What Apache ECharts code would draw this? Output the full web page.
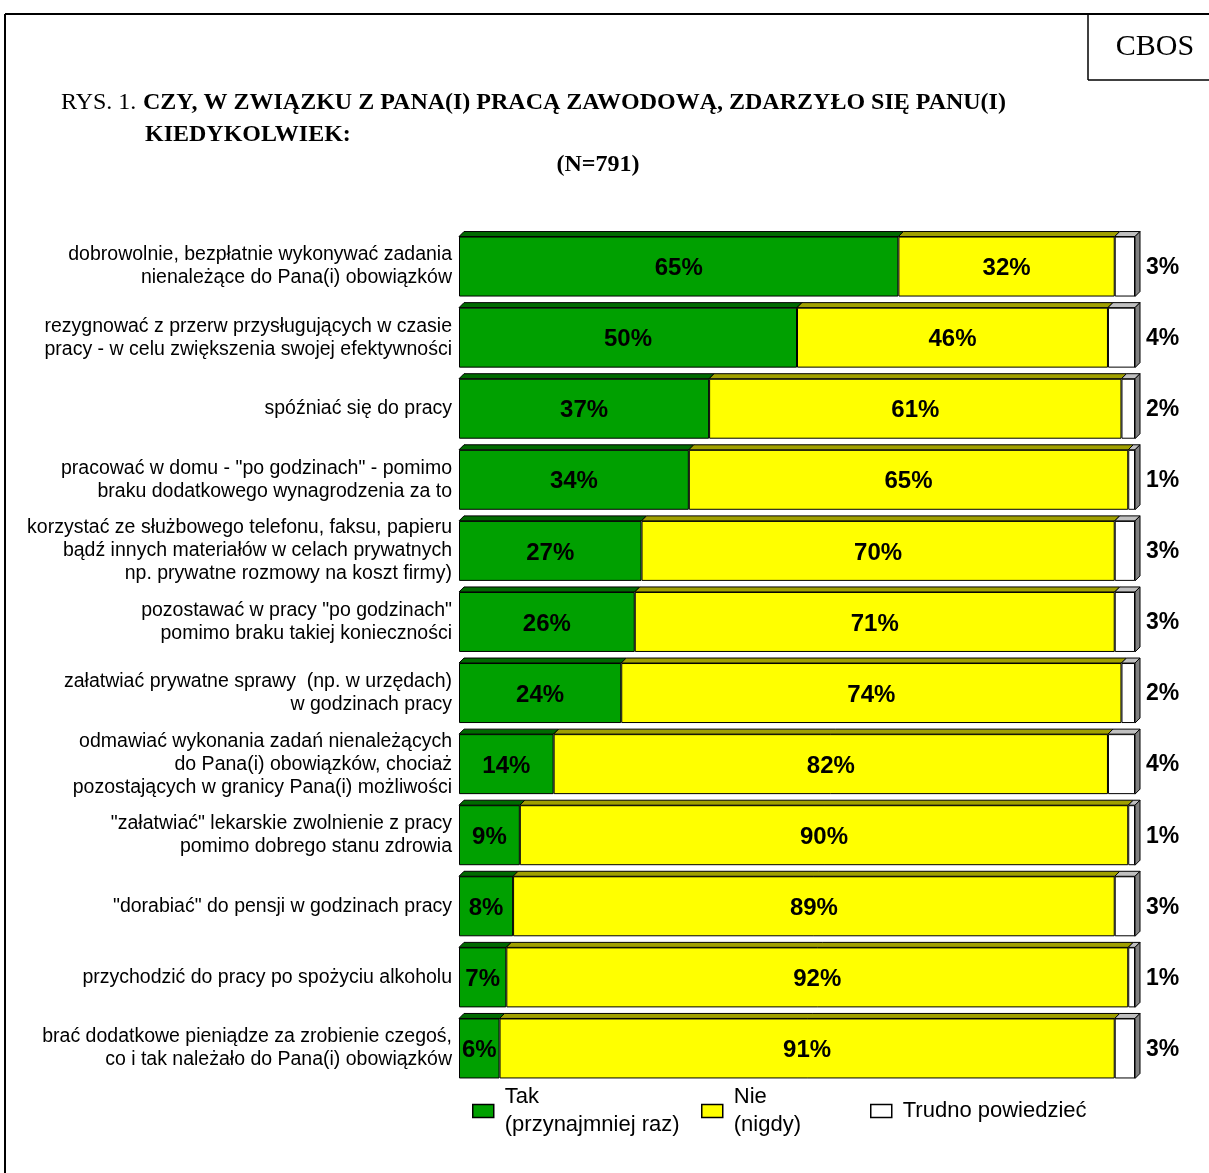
<!DOCTYPE html>
<html><head><meta charset="utf-8">
<script src="https://cdn.jsdelivr.net/npm/echarts@6/dist/echarts.min.js"></script>
<style>html,body{margin:0;padding:0;background:#fff}#c{width:1209px;height:1173px}</style>
</head><body><div id="c"></div>
<script>
var categories = [
  "dobrowolnie, bezpłatnie wykonywać zadania\nnienależące do Pana(i) obowiązków",
  "rezygnować z przerw przysługujących w czasie\npracy - w celu zwiększenia swojej efektywności",
  "spóźniać się do pracy",
  "pracować w domu - \"po godzinach\" - pomimo\nbraku dodatkowego wynagrodzenia za to",
  "korzystać ze służbowego telefonu, faksu, papieru\nbądź innych materiałów w celach prywatnych\nnp. prywatne rozmowy na koszt firmy)",
  "pozostawać w pracy \"po godzinach\"\npomimo braku takiej konieczności",
  "załatwiać prywatne sprawy  (np. w urzędach)\nw godzinach pracy",
  "odmawiać wykonania zadań nienależących\ndo Pana(i) obowiązków, chociaż\npozostających w granicy Pana(i) możliwości",
  "\"załatwiać\" lekarskie zwolnienie z pracy\npomimo dobrego stanu zdrowia",
  "\"dorabiać\" do pensji w godzinach pracy",
  "przychodzić do pracy po spożyciu alkoholu",
  "brać dodatkowe pieniądze za zrobienie czegoś,\nco i tak należało do Pana(i) obowiązków"
];
var tak    = [65, 50, 37, 34, 27, 26, 24, 14, 9, 8, 7, 6];
var nie    = [32, 46, 61, 65, 70, 71, 74, 82, 90, 89, 92, 91];
var trudno = [3, 4, 2, 1, 3, 3, 2, 4, 1, 3, 1, 3];
var seriesNames = ["Tak\n(przynajmniej raz)", "Nie\n(nigdy)", "Trudno powiedzieć"];

var GREEN = '#00a000', YELLOW = '#ffff00', WHITE = '#ffffff';
var BARW = 60, D = 5;
var sans = '"Liberation Sans", Arial, sans-serif';
var serif = '"Liberation Serif", "Times New Roman", serif';

var deco = categories.map(function (c, i) { return [i, tak[i], nie[i], trudno[i]]; });

function renderDeco(params, api) {
  var i = api.value(0), a = api.value(1), b = api.value(2), c = api.value(3);
  var p0 = api.coord([0, i]), p1 = api.coord([a, i]), p2 = api.coord([a + b, i]), p3 = api.coord([a + b + c, i]);
  var yT = p0[1] - BARW / 2, yB = p0[1] + BARW / 2;
  function top(x0, x1, fill) {
    return { type: 'polygon', shape: { points: [[x0, yT], [x1, yT], [x1 + D, yT - D], [x0 + D, yT - D]] },
      style: { fill: fill, stroke: '#000', lineWidth: 1 } };
  }
  return { type: 'group', children: [
    top(p0[0], p1[0], '#006a00'),
    top(p1[0], p2[0], '#a0a000'),
    top(p2[0], p3[0], '#c0c0c0'),
    { type: 'polygon', shape: { points: [[p3[0], yT], [p3[0] + D, yT - D], [p3[0] + D, yB - D], [p3[0], yB]] },
      style: { fill: '#808080', stroke: '#000', lineWidth: 1 } }
  ]};
}

var labelIn = { show: true, position: 'inside', formatter: '{c}%', color: '#000',
  fontFamily: sans, fontWeight: 'bold', fontSize: 24, offset: [0, 2] };

function legendAt(name, left, top) {
  return { data: [name], left: left, top: top, orient: 'horizontal', padding: 0,
    icon: 'rect', itemWidth: 21, itemHeight: 13, itemGap: 0,
    itemStyle: { borderColor: '#000', borderWidth: 1.5 },
    textStyle: { fontFamily: sans, fontSize: 22, color: '#000', lineHeight: 28, padding: [0, 0, 0, 6] },
    selectedMode: false };
}

var option = {
  backgroundColor: '#fff',
  animation: false,
  grid: { left: 459, right: 74, top: 231, height: 853 },
  xAxis: { type: 'value', min: 0, max: 100, show: false },
  yAxis: { type: 'category', data: categories, inverse: true,
    axisLine: { show: false }, axisTick: { show: false }, splitLine: { show: false },
    axisLabel: { fontFamily: sans, fontSize: 19.5, color: '#000', lineHeight: 23, margin: 7, align: 'right' } },
  legend: [
    legendAt(seriesNames[0], 472, 1083),
    legendAt(seriesNames[1], 701, 1083),
    legendAt(seriesNames[2], 870, 1097)
  ],
  series: [
    { name: seriesNames[0], type: 'bar', stack: 's', data: tak, barWidth: BARW,
      itemStyle: { color: GREEN, borderColor: '#000', borderWidth: 1 }, label: labelIn },
    { name: seriesNames[1], type: 'bar', stack: 's', data: nie, barWidth: BARW,
      itemStyle: { color: YELLOW, borderColor: '#000', borderWidth: 1 }, label: labelIn },
    { name: seriesNames[2], type: 'bar', stack: 's', data: trudno, barWidth: BARW,
      itemStyle: { color: WHITE, borderColor: '#000', borderWidth: 1 },
      label: { show: true, position: 'right', distance: 11, formatter: '{c}%', color: '#000',
        fontFamily: sans, fontWeight: 'bold', fontSize: 23, offset: [0, 1] } },
    { type: 'custom', name: '3d', data: deco, renderItem: renderDeco, z: 5,
      encode: { x: [1, 2, 3], y: 0 }, silent: true, tooltip: { show: false } }
  ],
  graphic: [
    { type: 'line', shape: { x1: 5, y1: 14, x2: 1209, y2: 14 }, style: { stroke: '#000', lineWidth: 2 } },
    { type: 'line', shape: { x1: 5, y1: 14, x2: 5, y2: 1173 }, style: { stroke: '#000', lineWidth: 2 } },
    { type: 'line', shape: { x1: 1088, y1: 14, x2: 1088, y2: 80 }, style: { stroke: '#000', lineWidth: 1.5 } },
    { type: 'line', shape: { x1: 1088, y1: 80, x2: 1209, y2: 80 }, style: { stroke: '#000', lineWidth: 1.5 } },
    { type: 'text', x: 1155, y: 47, style: { text: 'CBOS', font: '30px ' + serif, fill: '#000', textAlign: 'center', textVerticalAlign: 'middle' } },
    { type: 'text', x: 61, y: 103, style: { text: 'RYS. 1.', font: '24px ' + serif, fill: '#000', textVerticalAlign: 'middle' } },
    { type: 'text', x: 143, y: 103, style: { text: 'CZY, W ZWIĄZKU Z PANA(I) PRACĄ ZAWODOWĄ, ZDARZYŁO SIĘ PANU(I)', font: 'bold 24px ' + serif, fill: '#000', textVerticalAlign: 'middle' } },
    { type: 'text', x: 145, y: 135, style: { text: 'KIEDYKOLWIEK:', font: 'bold 24px ' + serif, fill: '#000', textVerticalAlign: 'middle' } },
    { type: 'text', x: 598, y: 165, style: { text: '(N=791)', font: 'bold 24px ' + serif, fill: '#000', textAlign: 'center', textVerticalAlign: 'middle' } }
  ]
};
var chart = echarts.init(document.getElementById('c'));
chart.setOption(option);
</script></body></html>
